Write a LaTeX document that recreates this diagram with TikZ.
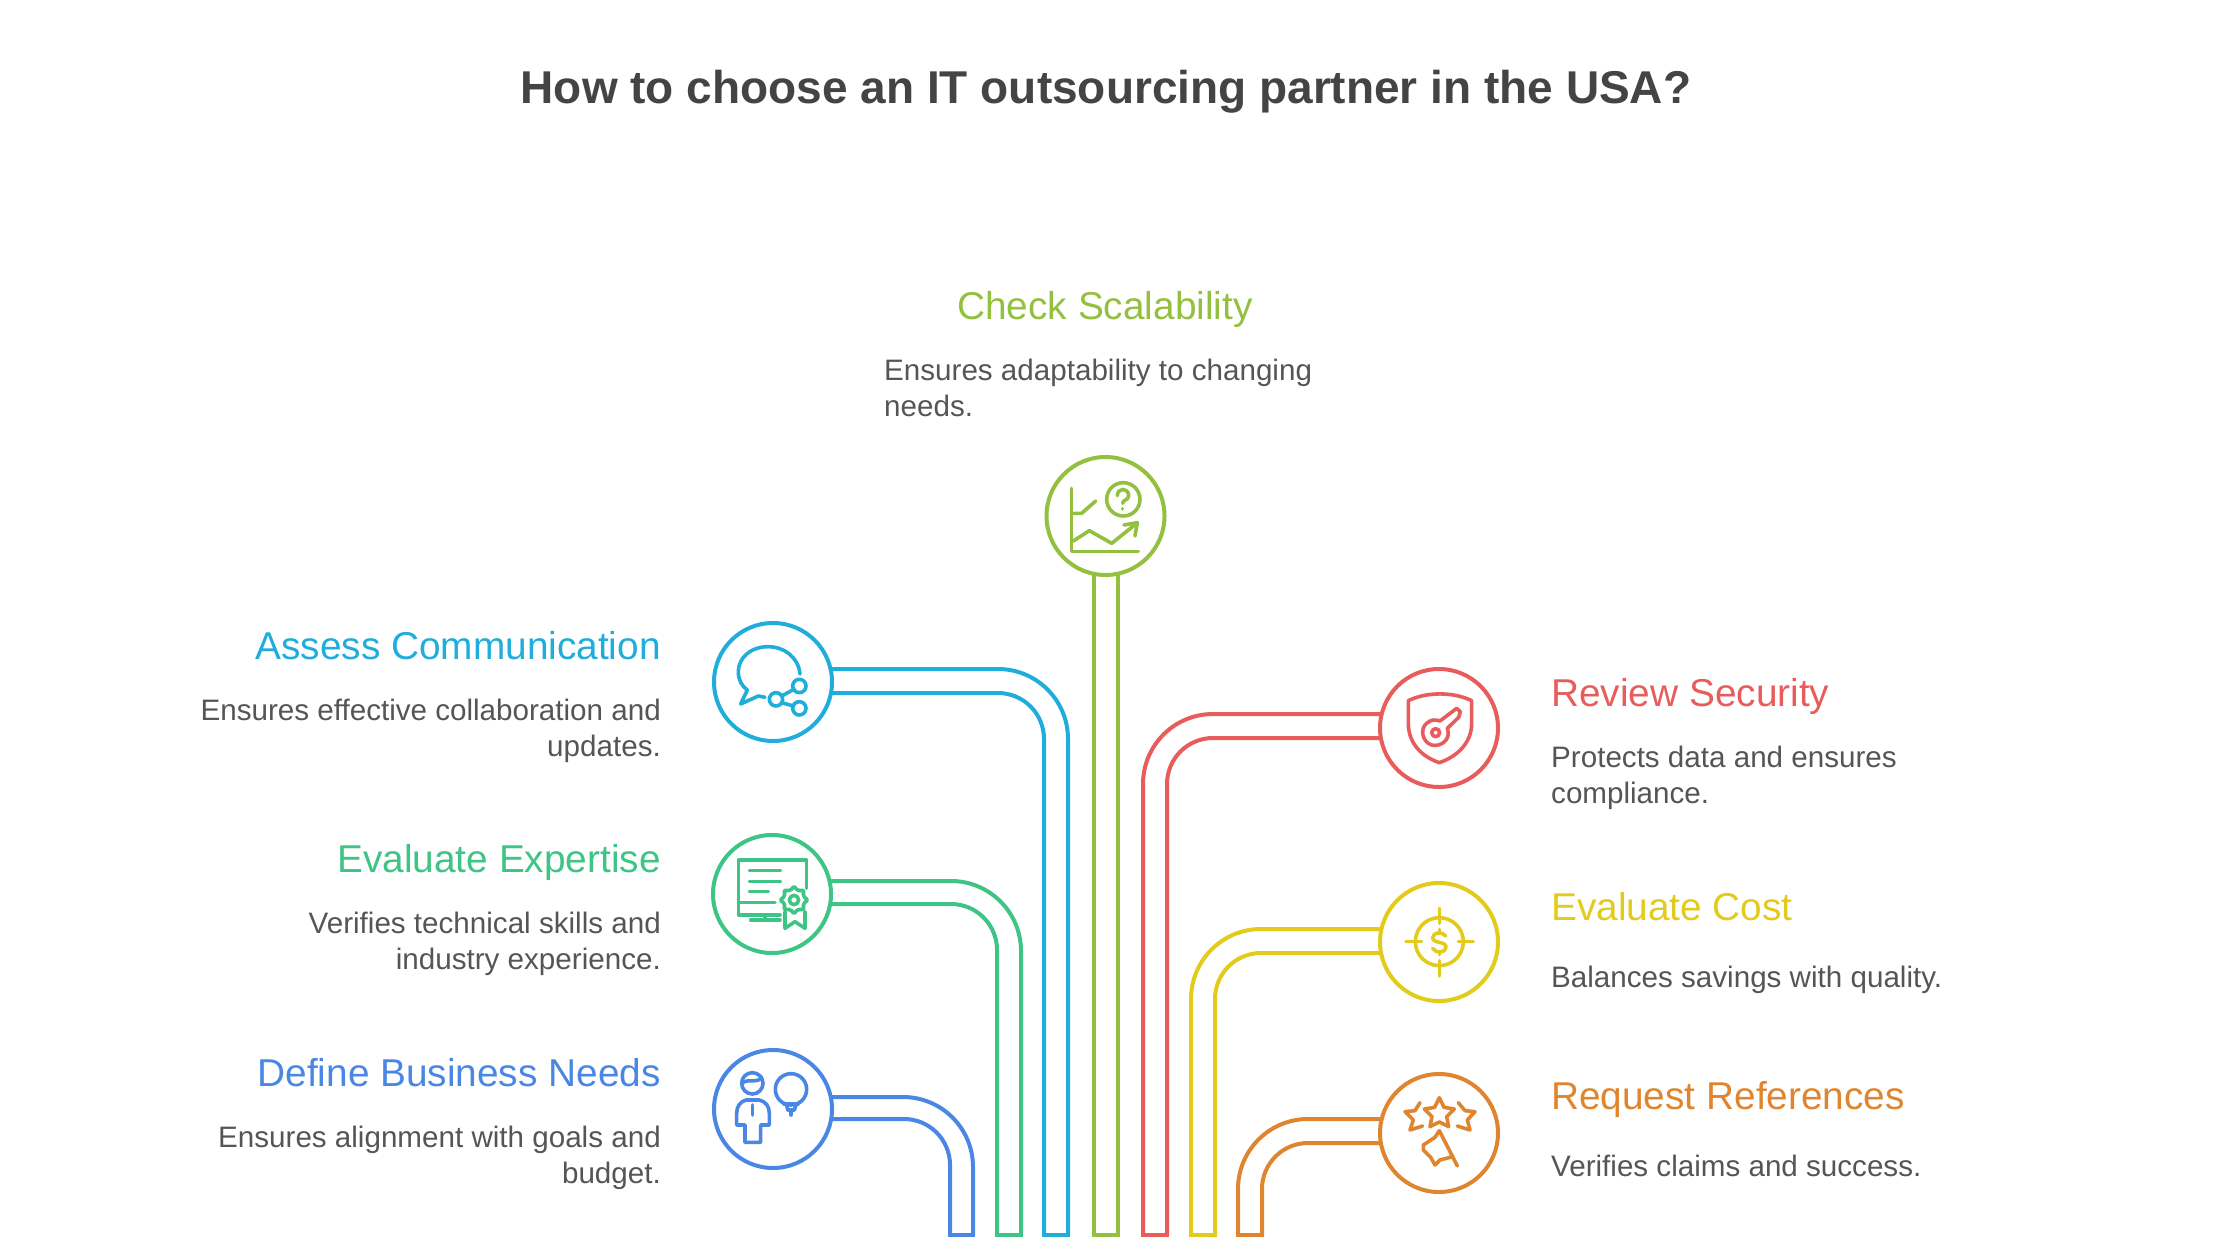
\documentclass[tikz,border=0pt]{standalone}
\usepackage{fontspec}
\setmainfont{Liberation Sans}
\usetikzlibrary{backgrounds}
\definecolor{cblue}{HTML}{4A86E4}
\definecolor{cgreen}{HTML}{3EC485}
\definecolor{ccyan}{HTML}{1FADDC}
\definecolor{clime}{HTML}{93C03E}
\definecolor{cred}{HTML}{E85C5C}
\definecolor{cyel}{HTML}{E3CB1C}
\definecolor{corg}{HTML}{E0852F}
\definecolor{tgrey}{HTML}{555555}
\definecolor{ttitle}{HTML}{444444}
\tikzset{
  hub/.style={circle,draw=#1,fill=white,line width=4pt,minimum size=118pt,inner sep=0pt},
  pipe/.style={draw=#1,line width=4pt},
  ico/.style={draw=#1,line width=3.6pt,line cap=round,line join=round},
  head/.style={inner sep=0pt,font=\fontsize{38.8}{38.8}\selectfont},
  desc/.style={inner sep=0pt,text=tgrey,font=\fontsize{29.6}{36}\selectfont},
}
% #1 colour, #2 hub, #3 foot joined to the top run, #4 foot joined to the lower run, #5 top y, #6 lower y
\newcommand{\bentpipe}[6]{%
  \draw[pipe=#1,rounded corners=70pt] (#2.center |- 0,#5) -- (#3 |- 0,#5) -- (#3);
  \draw[pipe=#1,rounded corners=46pt] (#2.center |- 0,#6) -- (#4 |- 0,#6) -- (#4);
  \draw[pipe=#1,line cap=rect] (#3) -- (#4);
}
\begin{document}
\begin{tikzpicture}[x=1pt,y=-1pt]
\useasboundingbox (0,0) rectangle (2240,1260);
\node (title) [inner sep=0pt,anchor=base,text=ttitle,font=\fontsize{46}{46}\selectfont\bfseries] at (1106,104) {How to choose an IT outsourcing partner in the USA?};

% hubs
\node (hubLime) [hub=clime] at (1105.5,516) {};
\node (hubCyan) [hub=ccyan] at (773,682) {};
\node (hubGreen) [hub=cgreen] at (772,894) {};
\node (hubBlue) [hub=cblue] at (773,1109) {};
\node (hubRed) [hub=cred] at (1439,728) {};
\node (hubYel) [hub=cyel] at (1439,942) {};
\node (hubOrg) [hub=corg] at (1439,1133) {};

% pipe feet
\coordinate (fBlueA) at (950,1235); \coordinate (fBlueB) at (973,1235);
\coordinate (fGreenA) at (997,1235); \coordinate (fGreenB) at (1021,1235);
\coordinate (fCyanA) at (1044,1235); \coordinate (fCyanB) at (1068,1235);
\coordinate (fLimeA) at (1094,1235); \coordinate (fLimeB) at (1118,1235);
\coordinate (fRedA) at (1143,1235); \coordinate (fRedB) at (1167,1235);
\coordinate (fYelA) at (1191,1235); \coordinate (fYelB) at (1215,1235);
\coordinate (fOrgA) at (1238,1235); \coordinate (fOrgB) at (1262,1235);

\begin{scope}[on background layer]
\bentpipe{cblue}{hubBlue}{fBlueB}{fBlueA}{1097}{1119}
\bentpipe{cgreen}{hubGreen}{fGreenB}{fGreenA}{881}{904}
\bentpipe{ccyan}{hubCyan}{fCyanB}{fCyanA}{669}{693}
\draw[pipe=clime,line join=miter] (fLimeA |- hubLime.center) -- (fLimeA) -- (fLimeB) -- (fLimeB |- hubLime.center);
\bentpipe{cred}{hubRed}{fRedA}{fRedB}{714}{738}
\bentpipe{cyel}{hubYel}{fYelA}{fYelB}{929}{953}
\bentpipe{corg}{hubOrg}{fOrgA}{fOrgB}{1119}{1143}
\end{scope}

% texts
\node (tLime) [head,text=clime,anchor=base] at (1105,319) {Check Scalability};
\node (dLime) [desc,anchor=north west,align=left] at (884,359) {Ensures adaptability to changing\\needs.};
\node (tCyan) [head,text=ccyan,anchor=base east] at (661,659) {Assess Communication};
\node (dCyan) [desc,anchor=north east,align=right] at (661,699) {Ensures effective collaboration and\\updates.};
\node (tGreen) [head,text=cgreen,anchor=base east] at (661,872) {Evaluate Expertise};
\node (dGreen) [desc,anchor=north east,align=right] at (661,912) {Verifies technical skills and\\industry experience.};
\node (tBlue) [head,text=cblue,anchor=base east] at (661,1086) {Define Business Needs};
\node (dBlue) [desc,anchor=north east,align=right] at (661,1126) {Ensures alignment with goals and\\budget.};
\node (tRed) [head,text=cred,anchor=base west] at (1551,706) {Review Security};
\node (dRed) [desc,anchor=north west,align=left] at (1551,746) {Protects data and ensures\\compliance.};
\node (tYel) [head,text=cyel,anchor=base west] at (1551,920) {Evaluate Cost};
\node (dYel) [desc,anchor=north west,align=left] at (1551,966) {Balances savings with quality.};
\node (tOrg) [head,text=corg,anchor=base west] at (1551,1109) {Request References};
\node (dOrg) [desc,anchor=north west,align=left] at (1551,1155) {Verifies claims and success.};

% icon: chart
\begin{scope}[shift={(1000,430)},x=0.3333pt,y=-0.3333pt,ico=clime]
\draw (215,175)--(215,365)--(415,365);
\draw (215,250)--(245,250)--(287,213);
\draw (220,333)--(268,302)--(335,340)--(410,280);
\draw (372,285)--(412,278)--(405,318);
\draw (370,208) circle (50);
\draw (352,197) .. controls (352,172) and (386,172) .. (386,197) .. controls (386,212) and (368,208) .. (368,220);
\draw (368,236)--(368,237);
\end{scope}
% icon: chat
\begin{scope}[shift={(690,600)},x=0.3333pt,y=-0.3333pt,ico=ccyan]
\draw (330,222) .. controls (325,170) and (280,140) .. (235,140) .. controls (180,140) and (145,175) .. (145,215) .. controls (145,240) and (155,258) .. (172,270) -- (152,312) -- (205,288) -- (225,292);
\draw (258,298) circle (20);
\draw (328,258) circle (20);
\draw (328,325) circle (20);
\draw (275,288)--(312,268);
\draw (275,308)--(310,318);
\end{scope}
% icon: certificate
\begin{scope}[shift={(690,820)},x=0.3333pt,y=-0.3333pt,ico=cgreen]
\draw (350,205) -- (350,120) -- (145,120) -- (145,285) -- (270,285);
\draw (145,247)--(255,247);
\draw (178,152)--(272,152);
\draw (178,184)--(272,184);
\draw (178,215)--(235,215);
\draw (225,285)--(225,300);
\draw (182,300)--(270,300);
\draw[shift={(312,240)}] plot[smooth cycle,domain=0:345,samples=24] ({(35+5*cos(8*\x))*cos(\x)},{(35+5*cos(8*\x))*sin(\x)});
\draw (312,240) circle (14);
\draw (285,275)--(285,325)--(315,305)--(345,325)--(345,275);
\end{scope}
% icon: person and bulb
\begin{scope}[shift={(690,1040)},x=0.3333pt,y=-0.3333pt,ico=cblue]
\draw (187,130) circle (32);
\draw (158,128) .. controls (178,115) and (200,132) .. (215,112);
\draw (168,180) -- (208,180) .. controls (228,185) and (238,200) .. (238,220) -- (238,255) -- (212,255) -- (212,307) -- (165,307) -- (165,255) -- (140,255) -- (140,220) .. controls (140,200) and (150,185) .. (168,180);
\draw (187,195)--(187,225);
\draw (303,148) circle (47);
\draw (282,192)--(324,192);
\draw (290,195)--(293,210)--(313,210)--(318,195);
\draw (303,210)--(303,225);
\end{scope}
% icon: shield
\begin{scope}[shift={(1360,660)},x=0.3333pt,y=-0.3333pt,ico=cred]
\draw (145,122) .. controls (200,95) and (280,95) .. (335,122) -- (335,190) .. controls (335,250) and (290,290) .. (238,308) .. controls (185,290) and (145,250) .. (145,190) -- cycle;
\draw (227,218) circle (12);
\draw (240,183) -- (290,145) -- (301,155) -- (296,172) -- (262,205) .. controls (275,240) and (240,262) .. (215,255) .. controls (185,245) and (180,205) .. (200,190) .. controls (212,178) and (228,178) .. (240,183) -- cycle;
\end{scope}
% icon: target dollar
\begin{scope}[shift={(1360,870)},x=0.3333pt,y=-0.3333pt,ico=cyel]
\draw (238,215) circle (72);
\draw (238,115)--(238,160);
\draw (238,272)--(238,318);
\draw (138,215)--(185,215);
\draw (295,215)--(340,215);
\draw (257,198) .. controls (250,185) and (218,185) .. (218,203) .. controls (218,222) and (258,212) .. (258,232) .. controls (258,250) and (225,250) .. (218,235);
\draw (238,178)--(238,187);
\draw (238,246)--(238,254);
\end{scope}
% icon: stars and megaphone
\begin{scope}[shift={(1360,1060)},x=0.3333pt,y=-0.3333pt,ico=corg]
\draw (238,113)--(252,142)--(283,147)--(260,170)--(266,200)--(238,186)--(210,200)--(216,170)--(193,147)--(224,142)--cycle;
\draw (180,128)--(165,152)--(135,155)--(160,180)--(150,210)--(188,198);
\draw (295,128)--(315,152)--(345,155)--(322,180)--(330,210)--(292,198);
\draw (238,212)--(292,318);
\draw (238,212)--(225,232)--(190,255)--(190,270)--(212,292)--(225,315)--(240,300)--(278,290);
\end{scope}
\end{tikzpicture}
\end{document}
